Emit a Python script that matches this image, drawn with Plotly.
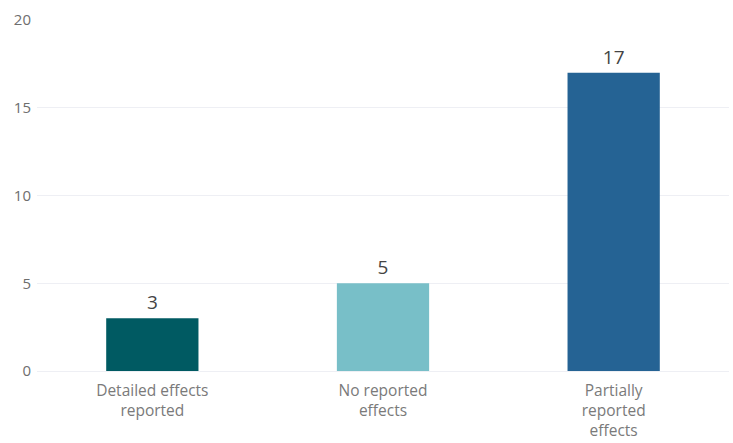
import plotly.graph_objects as go

categories = ["Detailed effects<br>reported", "No reported<br>effects", "Partially<br>reported<br>effects"]
counts = [3, 5, 17]
bar_colors = ["#005a62", "#78bfc8", "#256394"]
y_ticks = [0, 5, 10, 15, 20]

fig = go.Figure(
    go.Bar(
        x=categories,
        y=counts,
        marker=dict(color=bar_colors, line=dict(width=0)),
        width=0.4,
        text=counts,
        textposition="outside",
        textfont=dict(family="Open Sans, sans-serif", size=19, color="#444444"),
        cliponaxis=False,
        hoverinfo="x+y",
    )
)

fig.update_layout(
    width=733,
    height=443,
    margin=dict(l=37, r=4, t=20, b=72, autoexpand=False),
    paper_bgcolor="white",
    plot_bgcolor="white",
    showlegend=False,
    font=dict(family="Open Sans, sans-serif", color="#777777", size=16),
)
fig.update_xaxes(
    automargin=False,
    showgrid=False,
    showline=False,
    ticks="",
    tickfont=dict(family="Open Sans, sans-serif", size=15.5, color="#7a7a7a"),
    ticklabelstandoff=8,
)
fig.update_yaxes(
    automargin=False,
    range=[0, 20],
    tickvals=y_ticks,
    showgrid=True,
    gridcolor="#eeeff4",
    gridwidth=1,
    zeroline=True,
    zerolinecolor="#eeeff4",
    zerolinewidth=1,
    tickfont=dict(family="Open Sans, sans-serif", size=15, color="#6e6e6e"),
    ticklabelstandoff=5,
)

fig.write_html("out.html")
